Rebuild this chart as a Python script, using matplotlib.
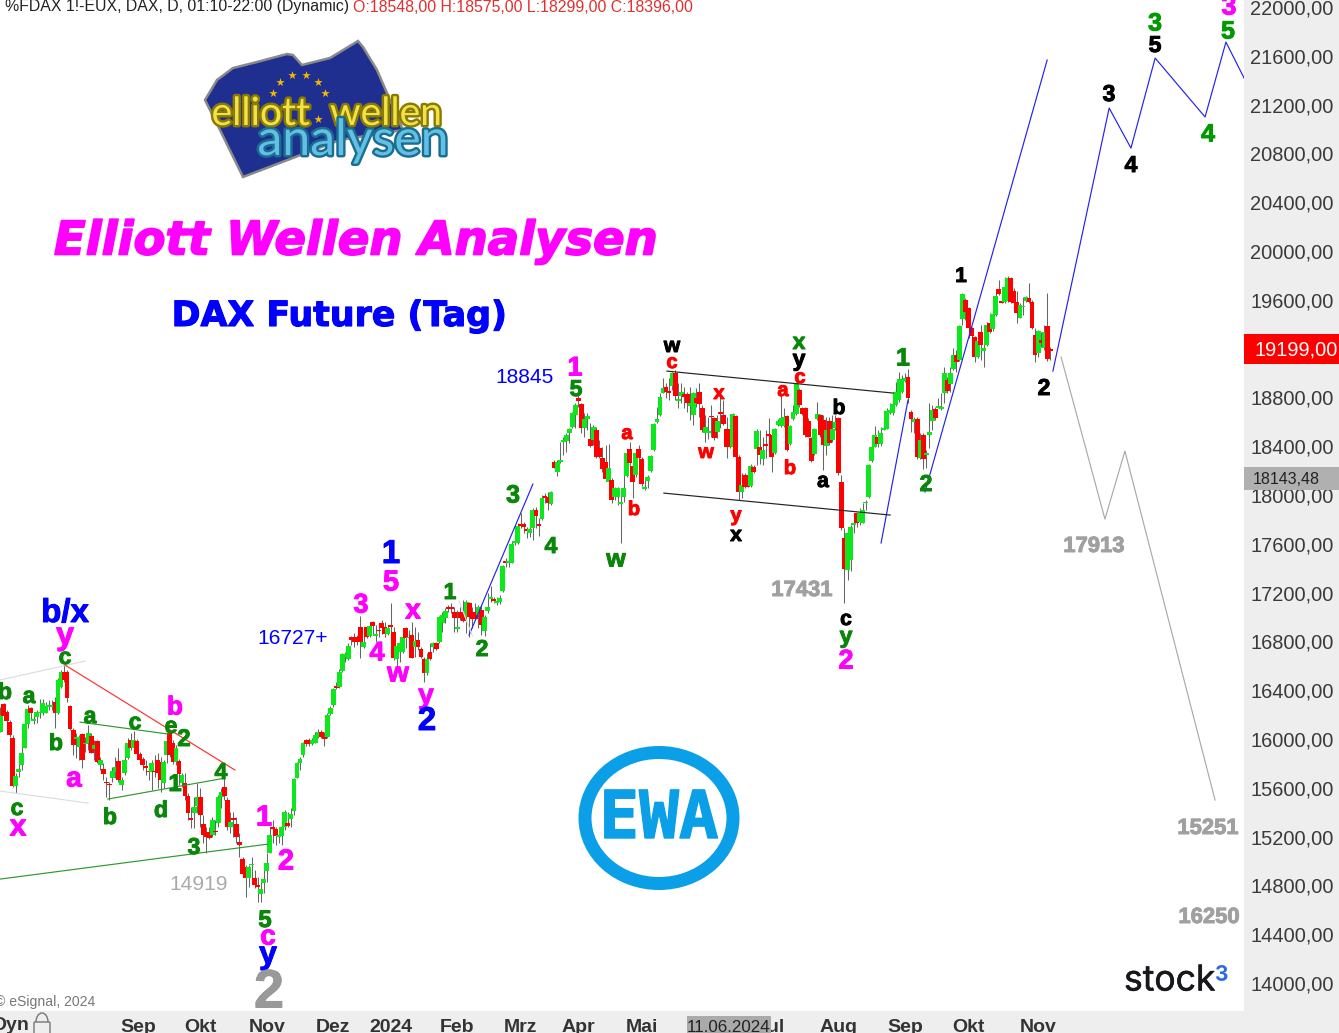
import matplotlib
matplotlib.use("Agg")
import matplotlib.pyplot as plt
import matplotlib.patheffects as pe
from matplotlib.patches import Ellipse, Polygon, Rectangle, FancyBboxPatch, Arc
from matplotlib.ticker import FuncFormatter
from matplotlib.transforms import ScaledTranslation

# daily candles
opens = [16068,16295,16229,16147,16016,15622,15740,15795,15937,16131,
16262,16158,16185,16218,16218,16224,16267,16273,16311,16218,
16431,16560,16560,16278,16082,16005,15945,16049,15967,15972,
16032,15929,15989,15795,15759,15658,15639,15691,15740,15827,
15628,15726,15855,16000,15937,15989,15882,15841,15786,15748,
15740,15748,15836,15822,15650,15877,16054,15972,15822,15827,
15644,15644,15543,15358,15399,15459,15535,15311,15248,15243,
15221,15254,15322,15535,15612,15508,15284,15358,15311,15161,
15021,14961,14866,14972,14866,14811,14737,14825,14929,15071,
15284,15267,15202,15213,15289,15317,15355,15420,15691,15808,
15877,16000,16000,15967,15978,16027,16065,16027,16027,16213,
16286,16442,16431,16569,16683,16664,16842,16842,16847,16924,
16765,16924,16856,16968,16856,16902,16957,16929,16869,16940,
16883,16662,16724,16724,16916,16834,16861,16765,16820,16744,
16662,16552,16719,16765,16793,16806,16957,16998,17090,17088,
17047,16910,17052,17052,17006,17121,17052,17052,17025,17066,
16897,17060,17159,17153,17126,17134,17222,17465,17454,17454,
17612,17612,17771,17771,17727,17700,17735,17886,17771,17809,
18000,17995,17935,18282,18197,18282,18446,18451,18514,18563,
18664,18803,18754,18560,18629,18465,18459,18541,18391,18309,
18282,18118,18131,17989,17995,17937,17992,18167,18383,18246,
18172,18383,18301,18060,18126,18208,18377,18610,18664,18847,
18897,18864,18902,19011,18782,18820,18834,18834,18741,18664,
18801,18856,18719,18520,18520,18659,18637,18528,18686,18664,
18547,18547,18405,18656,18323,18036,18173,18173,18082,18235,
18383,18399,18304,18424,18506,18500,18356,18585,18574,18574,
18656,18427,18632,18672,18869,18719,18719,18618,18479,18345,
18629,18662,18623,18410,18615,18459,18555,18642,18115,17659,
17394,17476,17765,17858,17790,17782,17940,17989,18290,18405,
18487,18427,18544,18550,18683,18678,18746,18787,18856,18946,
18972,18688,18604,18631,18308,18500,18333,18502,18614,18713,
18724,18713,18841,18950,18918,19038,19155,19114,19450,19606,
19538,19374,19300,19142,19341,19191,19237,19415,19366,19483,
19696,19595,19592,19601,19784,19683,19592,19461,19546,19601,
19620,19592,19319,19169,19278,19210,19393,19202]
closes = [16204,16196,16158,16041,15622,15704,15762,15890,16131,16251,
16218,16169,16232,16232,16300,16278,16284,16289,16218,16491,
16560,16491,16347,16090,15959,16024,16024,15836,15978,16054,
15896,15956,15822,15836,15721,15644,15628,15748,15781,15672,
15672,15836,15972,15937,16000,15882,15836,15795,15767,15735,
15808,15737,15726,15672,15816,15991,15877,15816,15937,15721,
15713,15543,15399,15347,15448,15535,15385,15221,15207,15194,
15344,15243,15535,15576,15541,15289,15330,15347,15207,15139,
14901,14866,14961,14983,14811,14797,14776,14857,14989,15221,
15267,15213,15221,15289,15412,15297,15393,15677,15808,15841,
15972,15964,15964,16000,16041,16068,16021,16011,16204,16265,
16415,16428,16560,16705,16705,16774,16820,16806,16806,16806,
16804,16842,16938,16935,16867,16891,16916,16869,16916,16929,
16670,16771,16793,16842,16834,16847,16675,16815,16760,16683,
16547,16667,16667,16793,16749,17006,17025,17058,17077,17077,
17003,16924,17003,16979,17134,17006,16989,16995,17093,16943,
17006,17093,17170,17142,17137,17162,17426,17454,17470,17607,
17634,17754,17754,17749,17711,17733,17886,17836,17757,17981,
17984,17940,18033,18232,18276,18295,18459,18500,18547,18678,
18743,18782,18560,18631,18656,18413,18563,18323,18323,18219,
18137,18227,17967,18066,18066,17948,18066,18350,18268,18118,
18350,18309,18099,18071,18153,18328,18588,18629,18815,18888,
18856,18847,19006,18820,18793,18853,18809,18760,18760,18842,
18760,18754,18541,18563,18533,18645,18473,18615,18675,18591,
18405,18405,18672,18317,18036,18091,18077,18077,18246,18200,
18536,18336,18377,18410,18492,18323,18550,18615,18637,18645,
18377,18574,18692,18924,18746,18672,18500,18487,18290,18550,
18672,18500,18418,18541,18432,18547,18610,18186,17735,17402,
17694,17744,17782,17776,17864,17886,17951,18254,18405,18500,
18427,18514,18555,18697,18705,18752,18856,18957,18957,18965,
18800,18631,18628,18317,18459,18306,18349,18524,18705,18642,
18740,18729,19005,18863,19005,19155,19101,19393,19655,19511,
19374,19311,19142,19270,19237,19210,19401,19347,19491,19639,
19655,19584,19710,19784,19592,19579,19497,19565,19557,19628,
19592,19374,19155,19352,19256,19347,19120,19191]
highs = [16273,16300,16245,16164,16041,15726,15808,15945,16136,16286,
16273,16204,16245,16338,16338,16314,16327,16327,16355,16505,
16573,16614,16573,16286,16095,16054,16041,16054,16027,16123,
16054,16000,16000,15863,15808,15699,15658,15781,15863,15931,
15699,15877,16013,16054,16073,16005,15904,15863,15836,15795,
15836,15877,15890,15863,15836,16041,16068,16000,15959,15841,
15726,15726,15562,15453,15535,15650,15603,15385,15289,15289,
15371,15344,15549,15603,15685,15535,15412,15412,15371,15235,
15043,14975,14975,15043,14934,14879,14838,14934,15071,15289,
15344,15289,15248,15358,15426,15412,15440,15685,15822,15863,
15986,16005,16013,16013,16068,16087,16082,16068,16218,16278,
16423,16478,16579,16711,16724,16793,16853,16875,16861,17017,
16902,16929,16957,16979,16943,16957,16984,16970,16943,17121,
16929,16793,16847,16875,16929,16902,16970,16929,16888,16765,
16683,16711,16793,16806,16806,17017,17052,17080,17107,17121,
17093,17066,17093,17148,17148,17134,17093,17121,17107,17107,
17025,17203,17263,17175,17175,17189,17435,17489,17503,17626,
17645,17776,17858,17790,17749,17776,17899,17913,17817,18008,
18022,18036,18044,18295,18295,18446,18487,18514,18555,18691,
18760,18828,18760,18678,18678,18596,18582,18569,18459,18405,
18418,18426,18145,18077,18077,18022,18172,18377,18446,18323,
18377,18418,18323,18159,18172,18336,18596,18733,18842,18965,
18924,18965,19019,19033,18924,18924,18897,18856,18897,18856,
18883,18924,18746,18664,18651,18746,18651,18664,18828,18787,
18651,18596,18678,18664,18336,18186,18186,18200,18263,18254,
18547,18541,18487,18541,18637,18514,18555,18629,18828,18719,
18664,18582,18746,18938,18883,18733,18733,18637,18487,18555,
18774,18672,18664,18651,18651,18664,18664,18651,18173,17735,
17700,17763,17804,17872,17899,17940,17968,18263,18418,18574,
18541,18563,18664,18719,18760,18787,18938,19019,18992,19006,
19039,18705,18650,18650,18513,18519,18377,18759,18746,18732,
18800,18841,19060,18978,19060,19210,19196,19401,19661,19620,
19552,19388,19311,19347,19401,19360,19429,19497,19524,19661,
19770,19702,19797,19803,19792,19702,19683,19579,19633,19639,
19748,19606,19374,19360,19347,19401,19661,19218]
lows = [16062,16191,16136,16021,15617,15568,15699,15754,15931,16095,
16163,16131,16136,16177,16204,16218,16245,16245,16095,16213,
16423,16478,16314,16082,15877,15849,15836,15773,15904,15918,
15890,15836,15808,15754,15672,15535,15508,15658,15685,15658,
15590,15713,15841,15918,15918,15868,15808,15754,15713,15672,
15590,15699,15603,15576,15603,15808,15863,15803,15795,15631,
15617,15508,15344,15276,15276,15399,15289,15153,15071,15185,
15202,15221,15289,15440,15508,15262,15235,15207,15153,15043,
14879,14716,14797,14866,14784,14675,14675,14743,14838,15071,
15153,15139,15153,15139,15262,15289,15289,15385,15685,15754,
15863,15953,15953,15959,15972,16013,16013,15953,16013,16204,
16273,16420,16423,16561,16642,16656,16779,16765,16779,16675,
16757,16834,16847,16861,16806,16847,16869,16847,16861,16875,
16656,16574,16642,16711,16752,16793,16670,16683,16738,16670,
16479,16533,16656,16724,16738,16793,16888,16957,17052,17039,
16888,16888,16984,16970,16875,16847,16916,16984,16916,16861,
16853,17039,17134,17121,17107,17115,17213,17421,17421,17448,
17599,17607,17735,17694,17653,17667,17640,17735,17675,17804,
17940,17886,17926,18227,18164,18268,18336,18364,18432,18555,
18555,18732,18514,18487,18541,18405,18418,18309,18309,18200,
18131,18104,17940,17967,17926,17618,17954,18159,18254,17981,
18159,18295,18082,18049,18063,18200,18372,18596,18656,18842,
18801,18787,18869,18787,18719,18760,18719,18692,18623,18582,
18733,18651,18528,18446,18465,18487,18459,18473,18555,18582,
18309,18391,18399,18309,17968,17981,18063,18071,18077,18186,
18254,18263,18254,18309,18377,18200,18345,18574,18569,18569,
18372,18418,18623,18664,18733,18664,18487,18481,18282,18336,
18623,18487,18213,18336,18418,18446,18541,18173,17722,17121,
17312,17388,17694,17749,17763,17776,17886,17981,18282,18399,
18405,18410,18541,18547,18672,18664,18738,18774,18842,18938,
18760,18527,18513,18300,18300,18218,18227,18390,18541,18623,
18718,18705,18759,18841,18855,19032,19019,19109,19401,19442,
19292,19278,19101,19128,19114,19060,19229,19338,19355,19475,
19647,19579,19584,19590,19584,19524,19420,19456,19483,19592,
19584,19366,19101,19142,19218,19196,19106,19114]

price_ticks = list(range(14000, 22001, 400))
month_pos = [45.5, 66, 88, 110, 129, 151, 172, 191, 212, 254.5, 277, 299, 320, 343]
month_names = ["Sep", "Okt", "Nov", "Dez", "2024", "Feb", "Mrz", "Apr", "Mai", "Jul", "Aug", "Sep", "Okt", "Nov"]

# forecast paths and channels as (bar index, price)
forecast_x = [347.9, 366.5, 373.7, 381.7, 398.2, 405.1, 411.1]
forecast_y = [19024, 21180, 20852, 21590, 21107, 21721, 21426]
grey_x = [350.6, 365.1, 371.7, 401.5]
grey_y = [19139, 17811, 18369, 15508]
blue_lines = [([154.9, 176], [16860, 18098]), ([291.1, 300], [17615, 18787]), ([305.6, 346], [18033, 21574])]
black_lines = [([220.3, 295.1], [19024, 18844]), ([219.3, 294.1], [18024, 17844])]
green_lines = [([26.3, 55.4], [16147, 16049]), ([35.5, 74.2], [15516, 15688]), ([-0.2, 88.4], [14860, 15147])]
light_lines = [([-0.2, 28], [16492, 16647]), ([-0.2, 29], [15582, 15483]), ([151.6, 156], [17139, 16852])]
red_x = [21.3, 77.5]
red_y = [16615, 15754]

GREEN = "#0a860a"
GREEN2 = "#009a00"
MAG = "#ff00ff"
BLUE = "#0000ff"
RED = "#ff0000"
BLK = "#000000"
GREY = "#a0a0a0"

# text, x px, y px, colour, size px
wave_labels = [
    ("b/x", 65, 612, BLUE, 33), ("y", 65, 635, MAG, 32), ("c", 65, 656, GREEN, 23),
    ("b", 5, 691, GREEN, 23), ("a", 29, 695, GREEN, 23), ("a", 90, 715, GREEN, 23),
    ("c", 135, 721, GREEN, 23), ("e", 171, 725, GREEN, 23), ("b", 175, 706, MAG, 26),
    ("2", 184, 738, GREEN, 24), ("b", 56, 742, GREEN, 23), ("a", 74, 778, MAG, 28),
    ("1", 175, 783, GREEN, 24), ("4", 221, 771, GREEN, 23), ("d", 161, 809, GREEN, 23),
    ("b", 110, 816, GREEN, 23), ("c", 17, 807, GREEN, 23), ("x", 18, 826, MAG, 30),
    ("3", 194, 846, GREEN, 23), ("1", 264, 816, MAG, 29), ("2", 286, 860, MAG, 29),
    ("5", 265, 919, GREEN, 24), ("c", 268, 936, MAG, 28), ("y", 268, 954, BLUE, 32),
    ("2", 269, 992, "#999999", 54),
    ("3", 361, 604, MAG, 27), ("4", 377, 652, MAG, 27), ("5", 391, 581, MAG, 29),
    ("1", 391, 553, BLUE, 33), ("x", 413, 610, MAG, 28), ("w", 398, 673, MAG, 28),
    ("y", 426, 695, MAG, 28), ("2", 427, 720, BLUE, 33), ("1", 450, 591, GREEN, 23),
    ("2", 482, 648, GREEN, 23), ("3", 513, 494, GREEN, 25), ("4", 551, 545, GREEN, 23),
    ("1", 575, 367, MAG, 27), ("5", 576, 388, GREEN, 23), ("a", 627, 432, RED, 20),
    ("b", 634, 508, RED, 20), ("w", 616, 558, GREEN, 25), ("w", 672, 345, BLK, 21),
    ("c", 672, 361, RED, 20), ("x", 719, 392, RED, 20), ("w", 706, 451, RED, 20),
    ("y", 736, 514, RED, 20), ("x", 736, 534, BLK, 21), ("a", 783, 389, RED, 20),
    ("c", 800, 376, RED, 20), ("x", 799, 341, GREEN, 23), ("y", 799, 358, BLK, 23),
    ("b", 790, 467, RED, 20), ("a", 823, 480, BLK, 21), ("b", 839, 407, BLK, 21),
    ("c", 846, 618, BLK, 21), ("y", 846, 635, GREEN, 23), ("2", 846, 660, MAG, 27),
    ("1", 903, 357, GREEN, 25), ("2", 926, 483, GREEN, 23), ("1", 961, 275, BLK, 21),
    ("2", 1044, 387, BLK, 23), ("3", 1109, 93, BLK, 23), ("4", 1131, 164, BLK, 23),
    ("3", 1155, 22, GREEN2, 25), ("5", 1155, 44, BLK, 23), ("4", 1208, 133, GREEN2, 25),
    ("3", 1229, 6, MAG, 27), ("5", 1228, 30, GREEN2, 25),
    ("17431", 802, 589, GREY, 22), ("17913", 1094, 545, GREY, 22),
    ("15251", 1208, 827, GREY, 22), ("16250", 1209, 916, GREY, 22),
]
plain_labels = [
    ("14919", 199, 883, "#aaaaaa", 21), ("16727+", 293, 637, BLUE, 21), ("18845", 525, 376, BLUE, 21),
]
star_x = [280, 292, 306, 318, 325, 318, 273]
star_y = [82, 75, 75, 82, 93, 119, 93]

W, H = 1339, 1033
PX = 72 / 100  # px to pt at dpi 100
DY = 1.5  # va=center sits a bit high with this font
plt.rcParams["font.family"] = ["Liberation Sans", "DejaVu Sans"]

fig = plt.figure(figsize=(W / 100, H / 100), dpi=100, facecolor="#eeeeee")
ax = fig.add_axes([0, 1 - 1011 / H, 1244 / W, 1011 / H], facecolor="white")
ax.set_xlim(-0.165, 411.07)
ax.set_ylim(22066 - 8.197 * 1011, 22066)
for s in ax.spines.values():
    s.set_visible(False)

idx = list(range(len(opens)))
colors = ["#0be81b" if c >= o else "#ff0000" for o, c in zip(opens, closes)]
bottoms = [min(o, c) for o, c in zip(opens, closes)]
heights = [abs(c - o) for o, c in zip(opens, closes)]
ax.vlines(idx, lows, highs, color="#666666", lw=0.75, zorder=2)
ax.bar(idx, heights, 1.6, bottom=bottoms, color=colors, lw=0, zorder=3)

ax.plot(forecast_x, forecast_y, color="#2222ee", lw=0.85, zorder=4)
ax.plot(grey_x, grey_y, color="#aaaaaa", lw=0.85, zorder=4)
for lx, ly in blue_lines:
    ax.plot(lx, ly, color="#2222ee", lw=0.85, zorder=4)
for lx, ly in black_lines:
    ax.plot(lx, ly, color="#222222", lw=0.85, zorder=4)
for lx, ly in green_lines:
    ax.plot(lx, ly, color="#2e9a2e", lw=0.85, zorder=4)
for lx, ly in light_lines:
    ax.plot(lx, ly, color="#dddddd", lw=0.85, zorder=4)
ax.plot(red_x, red_y, color="#ff3030", lw=0.85, zorder=4)

ax.yaxis.tick_right()
ax.set_yticks(price_ticks)
ax.yaxis.set_major_formatter(FuncFormatter(lambda v, p: f"{int(v)},00"))
ax.tick_params(axis="y", length=0, pad=4.5, labelsize=20 * PX, labelcolor="#3a3a3a")
down1 = ScaledTranslation(0, -1 / 100, fig.dpi_scale_trans)
for t in ax.yaxis.get_major_ticks():
    t.label2.set_va("center")
    t.label2.set_transform(t.label2.get_transform() + down1)
ax.set_xticks(month_pos)
ax.set_xticklabels(month_names, fontweight="bold")
ax.tick_params(axis="x", length=0, pad=6, labelsize=19.5 * PX, labelcolor="#333333")

# overlay in pixel space for the drawn-on annotations
ov = fig.add_axes([0, 0, 1, 1], facecolor="none")
ov.set_xlim(0, W)
ov.set_ylim(H, 0)
ov.axis("off")

def heavy(c, w=0.7):
    return [pe.withStroke(linewidth=w, foreground=c)]

for t, x, y, c, s in wave_labels:
    ov.text(x, y + DY, t, color=c, fontsize=s * PX, fontweight="bold", ha="center", va="center", zorder=6,
            path_effects=heavy(c))
for t, x, y, c, s in plain_labels:
    ov.text(x, y + DY, t, color=c, fontsize=s * PX, ha="center", va="center", zorder=6)

ov.text(5, 7, "%FDAX 1!-EUX, DAX, D, 01:10-22:00 (Dynamic) ", color="#222222", fontsize=15.85 * PX, va="center", ha="left", zorder=6)
ov.text(353, 7, "O:18548,00 H:18575,00 L:18299,00 C:18396,00", color="#e03030", fontsize=15.85 * PX, va="center", ha="left", zorder=6)

ov.text(356, 242, "Elliott Wellen Analysen", color=MAG, family="DejaVu Sans", style="oblique", fontweight="bold",
        fontsize=46.5 * PX, ha="center", va="center", zorder=6, path_effects=heavy(MAG, 1.2))
ov.text(339, 316, "DAX Future (Tag)", color=BLUE, family="DejaVu Sans", fontweight="bold",
        fontsize=34.8 * PX, ha="center", va="center", zorder=6, path_effects=heavy(BLUE, 0.8))

# logo top left
ov.add_patch(Polygon([(205, 100), (217, 80), (233, 68), (257, 62), (287, 54), (293, 55), (302, 65), (330, 58), (358, 41),
                      (363, 47), (377, 70), (403, 130), (340, 140), (243, 177), (220, 130)],
                     closed=True, fc="#1e2f90", ec="#8a8a8a", lw=1.8, zorder=5))
ov.scatter(star_x, star_y, marker="*", s=40, c="#f5b800", lw=0, zorder=5)
ov.text(327, 114, "elliott  wellen", color="#f2e24a", fontsize=39 * PX, family="Lato", ha="center", va="center", zorder=6,
        path_effects=[pe.withStroke(linewidth=3.5, foreground="#8a7a00")])
ov.text(353, 141, "analysen", color="#63bfe6", fontsize=50 * PX, family="Lato", ha="center", va="center", zorder=6,
        path_effects=[pe.withStroke(linewidth=3.5, foreground="#1a6f90")])

# EWA ring
ov.add_patch(Ellipse((659, 818), 148, 131, fc="white", ec="#0a9fe6", lw=13 * PX, zorder=5))
ov.text(659, 820, "EWA", color="#0a9fe6", fontsize=66 * PX, fontweight="bold", family="DejaVu Sans Mono", ha="center", va="center", zorder=6,
        path_effects=heavy("#0a9fe6", 1.0))

# price boxes on the axis
ov.add_patch(Rectangle((1244, 334), 95, 30, fc="#ff0000", ec="none", zorder=5))
ov.text(1296, 350, "19199,00", color="white", fontsize=20 * PX, ha="center", va="center", zorder=6)
ov.add_patch(Rectangle((1244, 467), 95, 23, fc="#b0b0b0", ec="none", zorder=5))
ov.text(1286, 479, "18143,48", color="#222222", fontsize=16 * PX, ha="center", va="center", zorder=6)

# bottom strip
ov.add_patch(Rectangle((687, 1016), 84, 17, fc="#aaaaaa", ec="none", zorder=5))
ov.text(729, 1028, "11.06.2024", color="#222222", fontsize=17 * PX, ha="center", va="center", zorder=6)
ov.text(-7, 1026, "Dyn", color="#333333", fontsize=19.5 * PX, fontweight="bold", ha="left", va="center", zorder=6)
ov.add_patch(FancyBboxPatch((35, 1023), 14, 11, boxstyle="round,pad=1", fc="none", ec="#777777", lw=1, zorder=6))
ov.add_patch(Arc((42, 1022), 12, 18, theta1=180, theta2=360, ec="#777777", lw=1, zorder=6))
ov.text(-5, 1002, "© eSignal, 2024", color="#777777", fontsize=14 * PX, ha="left", va="center", zorder=6)

ov.text(1124, 981, "stock", color="#16181c", fontsize=35.5 * PX, family="Inter", ha="left", va="center", zorder=6,
        path_effects=heavy("#16181c", 0.4))
ov.text(1222, 975, "3", color="#2b6be0", fontsize=21 * PX, fontweight="bold", family="Inter", ha="center", va="center", zorder=6)

fig.savefig("out.png", dpi=100, facecolor=fig.get_facecolor())
